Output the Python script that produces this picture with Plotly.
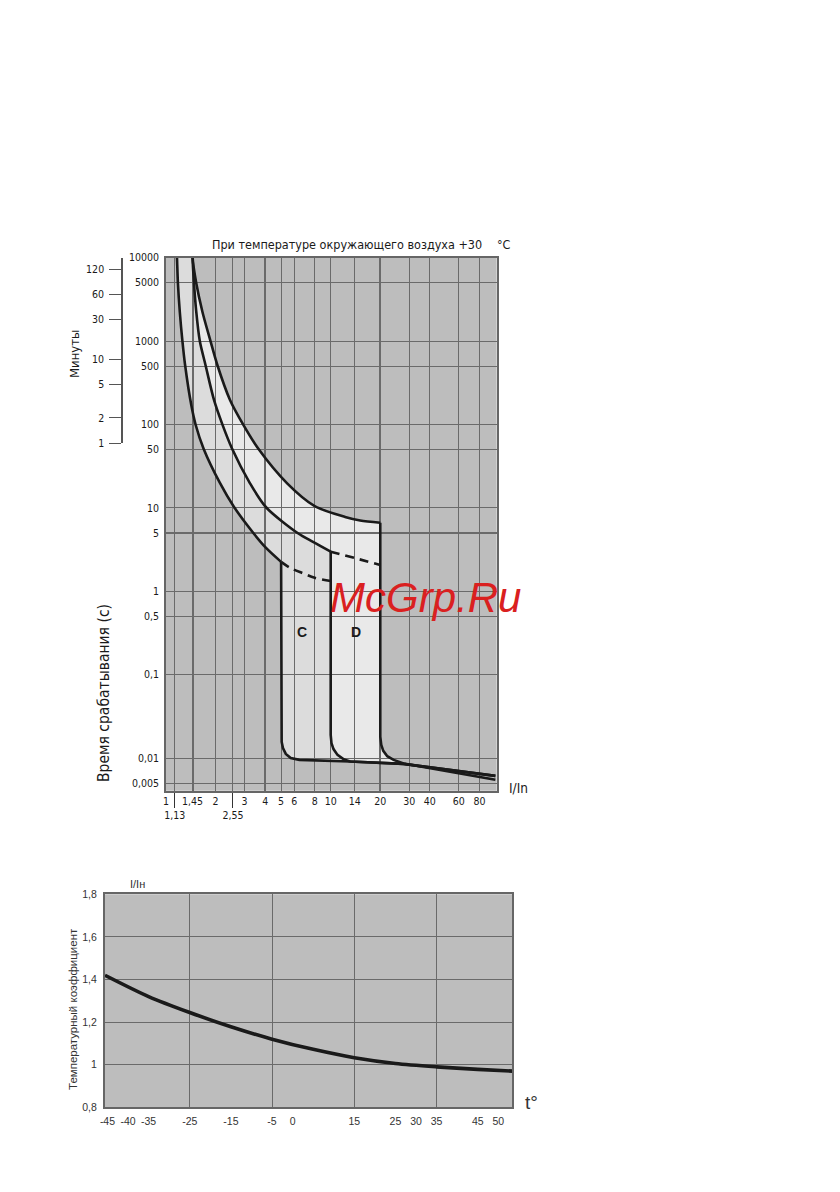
import plotly.graph_objects as go

# ---------------- top chart: axes ----------------
x_ticks = [1, 1.13, 1.45, 2, 2.55, 3, 4, 5, 6, 8, 10, 14, 20, 30, 40, 60, 80]
x_ticktext = ["1", "<br>1,13", "1,45", "2", "<br>2,55", "3", "4", "5", "6", "8",
              "10", "14", "20", "30", "40", "60", "80"]
x_grid_thin = [1.13, 2, 2.55, 3, 5, 6, 8, 10, 14, 30, 40, 60, 80]
x_grid_thick = [1.45, 4, 20]
x_extra_ticks = [1.13, 2.55]

y_ticks = [10000, 5000, 1000, 500, 100, 50, 10, 5, 1, 0.5, 0.1, 0.01, 0.005]
y_ticktext = ["10000", "5000", "1000", "500", "100", "50", "10", "5", "1",
              "0,5", "0,1", "0,01", "0,005"]
y_grid_thin = [5000, 1000, 500, 100, 50, 10, 1, 0.5, 0.1, 0.01, 0.005]
y_grid_thick = [5]

min_ticks_s = [7200, 3600, 1800, 600, 300, 120, 60]
min_ticktext = ["120", "60", "30", "10", "5", "2", "1"]

# ---------------- top chart: curves (I/In, seconds) ----------------
lower_x = [1.16, 1.166, 1.181, 1.213, 1.258, 1.306, 1.424, 1.515, 1.694, 2.125, 2.588, 3.39, 4.05, 5.0]
lower_y = [12000, 10000, 5000, 2234, 1000, 517, 171, 98.6, 50.8, 19.9, 10.25, 5.0, 3.31, 2.25]

middle_x = [1.45, 1.45, 1.479, 1.527, 1.604, 1.737, 1.956, 2.188, 2.516, 3.236, 4.05, 6.33, 7.81, 10.0]
middle_y = [12000, 10000, 5000, 2234, 1000, 517, 196.7, 103, 51.5, 19.7, 10.17, 4.96, 3.9, 2.98]

upper_x = [1.45, 1.45, 1.525, 1.665, 1.863, 2.05, 2.447, 2.914, 3.62, 5.44, 8.0, 12.23, 15.1, 20.0]
upper_y = [12000, 10000, 5000, 2234, 1000, 517, 196.7, 103, 51.8, 19.7, 10.5, 7.78, 7.06, 6.64]

lower_dash_x = [5.0, 5.7, 6.8, 8.0, 10.0]
lower_dash_y = [2.25, 1.9, 1.64, 1.45, 1.33]
middle_dash_x = [10.0, 14.1, 20.0]
middle_dash_y = [2.98, 2.49, 2.07]

c_mag_x = [5.0, 5.0, 5.04, 5.13, 5.34, 5.72, 6.45]
c_mag_y = [2.25, 0.020, 0.0156, 0.0132, 0.0112, 0.0100, 0.0095]
d_mag_x = [10.0, 10.0, 10.11, 10.40, 11.0, 12.06]
d_mag_y = [2.98, 0.0189, 0.0151, 0.0128, 0.0109, 0.0096]
bottom_x = [13.12, 27.6, 100]
bottom_y = [0.0091, 0.0085, 0.0061]
t20_x = [20.0, 20.0, 20.28, 20.86, 22.06, 24.1, 27.7, 100]
t20_y = [6.64, 0.0181, 0.0144, 0.0122, 0.0105, 0.0095, 0.0086, 0.0055]

# ---------------- bottom chart ----------------
temp_ticks = [-45, -40, -35, -25, -15, -5, 0, 15, 25, 30, 35, 45, 50]
temp_grid = [-25, -5, 15, 35]
coef_ticks = [0.8, 1.0, 1.2, 1.4, 1.6, 1.8]
coef_ticktext = ["0,8", "1", "1,2", "1,4", "1,6", "1,8"]
temp_x = [-45.6, -35, -25, -15, -5, 5, 15, 25, 35, 45, 53.4]
coef_y = [1.42, 1.32, 1.245, 1.178, 1.12, 1.072, 1.033, 1.006, 0.99, 0.978, 0.97]

# ---------------- styling ----------------
BG = "#bdbdbd"
GRID = "#6a6a6a"
FRAME = "#666666"
INK = "#1a1a1a"
FILL1 = "#dcdcdc"
FILL2 = "#e9e9e9"
NARROW = "DejaVu Sans Condensed, Roboto, sans-serif"
ARIAL = "Liberation Sans, Arial, sans-serif"

# the page has an 8px body margin: figure is placed at (8, 8)
W, H, OFF = 832, 1184, 8


def fx(p):
    return (p - OFF) / W


def fy(p):
    return 1 - (p - OFF) / H


TOP_X = [fx(166), fx(496.7)]
TOP_Y = [fy(790.7), fy(257.7)]
XR = [0, 2.008]
YR = [-2.392, 4]
MIN_Y = [fy(443.0), fy(257.7)]
BOT_X = [fx(105), fx(512.3)]
BOT_Y = [fy(1107.3), fy(894.3)]

# polygons built from the curve arrays
reg1_x = middle_x + d_mag_x + bottom_x[:1] + (lower_x + c_mag_x)[::-1]
reg1_y = middle_y + d_mag_y + bottom_y[:1] + (lower_y + c_mag_y)[::-1]
reg2_x = upper_x + t20_x[:-1] + (middle_x + d_mag_x + bottom_x[:2])[::-1]
reg2_y = upper_y + t20_y[:-1] + (middle_y + d_mag_y + bottom_y[:2])[::-1]

fig = go.Figure()

for rx, ry, col in [(reg1_x, reg1_y, FILL1), (reg2_x, reg2_y, FILL2)]:
    fig.add_trace(go.Scatter(x=rx, y=ry, fill="toself", fillcolor=col, mode="lines",
                             line=dict(width=0, shape="spline", smoothing=0.8),
                             hoverinfo="skip", showlegend=False, xaxis="x", yaxis="y"))

# thermal curves (smooth)
for lx, ly in [(lower_x, lower_y), (middle_x, middle_y), (upper_x, upper_y)]:
    fig.add_trace(go.Scatter(x=lx, y=ly, mode="lines",
                             line=dict(color=INK, width=2.6, shape="spline", smoothing=0.8),
                             hoverinfo="skip", showlegend=False, xaxis="x2", yaxis="y2"))
# magnetic parts
for lx, ly in [(c_mag_x + bottom_x, c_mag_y + bottom_y),
               (d_mag_x + bottom_x, d_mag_y + bottom_y),
               (t20_x, t20_y)]:
    fig.add_trace(go.Scatter(x=lx, y=ly, mode="lines", line=dict(color=INK, width=2.6),
                             hoverinfo="skip", showlegend=False, xaxis="x2", yaxis="y2"))
for lx, ly in [(lower_dash_x, lower_dash_y), (middle_dash_x, middle_dash_y)]:
    fig.add_trace(go.Scatter(x=lx, y=ly, mode="lines",
                             line=dict(color=INK, width=2.6, dash="9px,6px", shape="spline"),
                             hoverinfo="skip", showlegend=False, xaxis="x2", yaxis="y2"))

# carrier for the minutes scale (no visible mark)
fig.add_trace(go.Scatter(x=[None], y=[None], mode="lines", hoverinfo="skip",
                         showlegend=False, xaxis="x", yaxis="y3"))

fig.add_trace(go.Scatter(x=temp_x, y=coef_y, mode="lines",
                         line=dict(color=INK, width=3.6, shape="spline", smoothing=0.8),
                         hoverinfo="skip", showlegend=False, xaxis="x3", yaxis="y4"))

tickf = dict(family=NARROW, size=10.5, color=INK)

fig.update_layout(
    width=W, height=H,
    margin=dict(l=0, r=0, t=0, b=0, autoexpand=False),
    paper_bgcolor="white", plot_bgcolor="rgba(0,0,0,0)",
    showlegend=False,
    xaxis=dict(domain=TOP_X, type="log", range=XR, anchor="y", showgrid=False, zeroline=False,
               showline=False, tickmode="array", tickvals=x_ticks, ticktext=x_ticktext,
               ticks="", tickangle=0, tickfont=tickf, ticklabelstandoff=3, automargin=False,
               minor=dict(tickmode="array", tickvals=x_extra_ticks, ticks="outside", ticklen=16,
                          tickcolor="#333", tickwidth=1, showgrid=False)),
    yaxis=dict(domain=TOP_Y, type="log", range=YR, anchor="x", showgrid=False, zeroline=False,
               showline=False, tickmode="array", tickvals=y_ticks, ticktext=y_ticktext,
               ticks="", tickfont=tickf, ticklabelstandoff=6, automargin=False),
    xaxis2=dict(domain=TOP_X, type="log", range=XR, anchor="y2", showticklabels=False, ticks="",
                tickmode="array", tickvals=x_grid_thick, showgrid=True, gridcolor=GRID, gridwidth=2.4,
                minor=dict(tickmode="array", tickvals=x_grid_thin, showgrid=True, gridcolor=GRID,
                           gridwidth=1, ticks=""),
                showline=True, mirror=True, linecolor=FRAME, linewidth=2, zeroline=False,
                automargin=False),
    yaxis2=dict(domain=TOP_Y, type="log", range=YR, anchor="x2", showticklabels=False, ticks="",
                tickmode="array", tickvals=y_grid_thick, showgrid=True, gridcolor=GRID, gridwidth=2.4,
                minor=dict(tickmode="array", tickvals=y_grid_thin, showgrid=True, gridcolor=GRID,
                           gridwidth=1, ticks=""),
                showline=True, mirror=True, linecolor=FRAME, linewidth=2, zeroline=False,
                automargin=False),
    yaxis3=dict(domain=MIN_Y, type="log", range=[1.7782, 4], anchor="free", position=fx(122),
                side="left", tickmode="array", tickvals=min_ticks_s, ticktext=min_ticktext,
                ticks="outside", ticklen=12, tickcolor="#555", tickwidth=1, showline=True,
                linecolor="#555", linewidth=1.5, showgrid=False, zeroline=False, tickfont=tickf,
                ticklabelstandoff=3, automargin=False),
    xaxis3=dict(domain=BOT_X, range=[-45.6, 53.4], anchor="y4", tickmode="array",
                tickvals=temp_ticks, ticktext=[str(v) for v in temp_ticks], ticks="", showgrid=False,
                minor=dict(tickmode="array", tickvals=temp_grid, showgrid=True, gridcolor=GRID,
                           gridwidth=1, ticks=""),
                showline=True, mirror=True, linecolor=FRAME, linewidth=2, zeroline=False,
                tickfont=dict(family=ARIAL, size=10.5, color="#333"), ticklabelstandoff=3,
                tickangle=0, automargin=False),
    yaxis4=dict(domain=BOT_Y, range=[0.8, 1.8], anchor="x3", tickmode="array",
                tickvals=coef_ticks, ticktext=coef_ticktext, ticks="", showgrid=True,
                gridcolor=GRID, gridwidth=1, showline=True, mirror=True, linecolor=FRAME,
                linewidth=2, zeroline=False, automargin=False,
                tickfont=dict(family=ARIAL, size=10.5, color="#333"), ticklabelstandoff=4),
    shapes=[
        dict(type="rect", xref="x domain", yref="y domain", x0=0, x1=1, y0=0, y1=1,
             fillcolor=BG, line=dict(width=0), layer="below"),
        dict(type="rect", xref="x3 domain", yref="y4 domain", x0=0, x1=1, y0=0, y1=1,
             fillcolor=BG, line=dict(width=0), layer="below"),
    ],
)


def ann(text, px, py, size=12, family=NARROW, color=INK, angle=0, xanchor="center", **kw):
    fig.add_annotation(text=text, x=fx(px), y=fy(py), xref="paper", yref="paper",
                       showarrow=False, textangle=angle, xanchor=xanchor, yanchor="middle",
                       font=dict(family=family, size=size, color=color), **kw)


ann("При температуре окружающего воздуха +30", 346.7, 244, size=12.5)
ann("°C", 504, 244, size=12.5)
ann("Минуты", 74, 354, size=13, angle=-90)
ann("Время срабатывания (с)", 104, 693, size=15.5, angle=-90)
ann("<b>C</b>", 301.7, 632, size=14, family=ARIAL)
ann("<b>D</b>", 356, 632, size=14, family=ARIAL)
ann("I/In", 518, 788, size=13.5)
ann("<i>McGrp.Ru</i>", 425, 598, size=42, family=ARIAL, color="rgb(218,32,32)")
ann("I/Iн", 137, 884, size=11, family=ARIAL, color="#333")
ann("Температурный коэффициент", 73, 1009, size=11.5, family=ARIAL, color="#333", angle=-90)
ann("t°", 531, 1102, size=19, family=ARIAL, color="#333")

fig.write_html("out.html")
